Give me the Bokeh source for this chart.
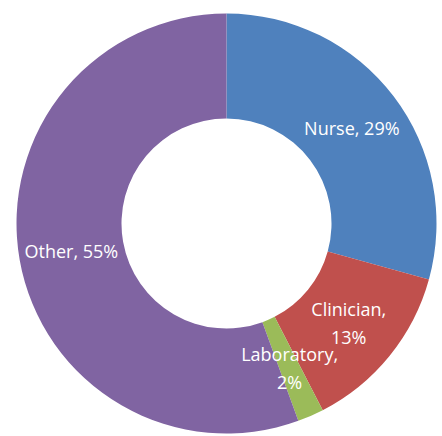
import math
from bokeh.plotting import figure
from bokeh.models import ColumnDataSource, Range1d
from bokeh.core.properties import value
from bokeh.embed import file_html
from bokeh.resources import INLINE

categories = ["Nurse", "Clinician", "Laboratory", "Other"]
values = [29, 13, 2, 55]
labels = ["Nurse, 29%", "Clinician,\n13%", "Laboratory,\n2%", "Other, 55%"]
colors = ["#4F81BD", "#C0504D", "#9BBB59", "#8064A2"]

W, H = 442, 436
cx, cy = 226, H - 223
r_in, r_out = 105, 210

total = float(sum(values))
starts, ends, lx, ly = [], [], [], []
cum = 0.0
for v in values:
    a0 = math.pi / 2 - 2 * math.pi * cum / total
    cum += v
    a1 = math.pi / 2 - 2 * math.pi * cum / total
    starts.append(a0)
    ends.append(a1)
    mid = (a0 + a1) / 2
    rm = (r_in + r_out) / 2
    lx.append(cx + rm * math.cos(mid))
    ly.append(cy + rm * math.sin(mid))

src = ColumnDataSource(dict(cat=categories, val=values, start=starts, end=ends,
                            color=colors, lx=lx, ly=ly, label=labels,
                            cx=[cx] * len(values), cy=[cy] * len(values)))

p = figure(width=W, height=H, output_backend="svg", toolbar_location=None,
           x_range=Range1d(0, W), y_range=Range1d(0, H), min_border=0)
p.axis.visible = False
p.grid.visible = False
p.outline_line_color = None
p.background_fill_color = "white"

p.annular_wedge(x="cx", y="cy", inner_radius=r_in, outer_radius=r_out,
                start_angle="start", end_angle="end", direction="clock",
                fill_color="color", line_color=None, source=src)

p.text(x="lx", y="ly", text="label", source=src, text_color="white",
       text_align="center", text_baseline="middle", text_font=value("Open Sans"),
       text_font_size="18px", text_line_height=1.15)

open("out.html", "w").write(file_html(p, INLINE))
